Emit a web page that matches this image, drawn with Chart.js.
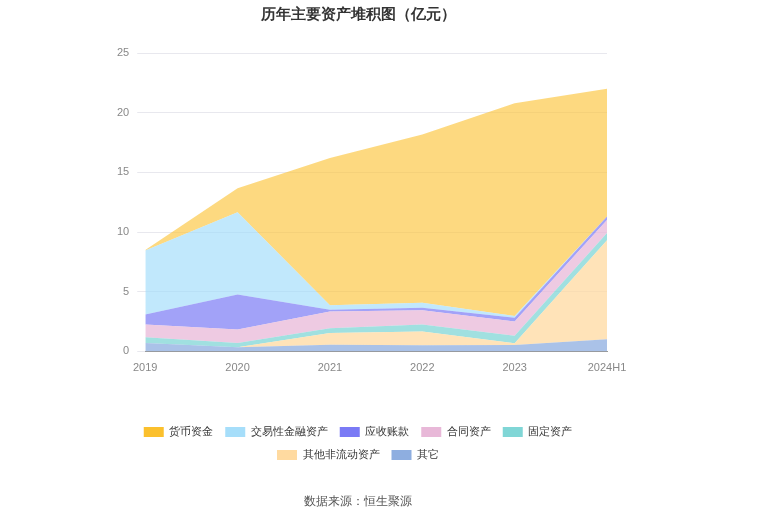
<!DOCTYPE html>
<html><head><meta charset="utf-8">
<script src="https://cdn.jsdelivr.net/npm/chart.js@4"></script>
<style>html,body{margin:0;padding:0;background:#fff}#w{width:765px;height:517px}</style>
</head><body><div id="w"><canvas id="c"></canvas></div>
<script>
const categories = ['2019','2020','2021','2022','2023','2024H1'];
const huobi   = [0.05, 2.0, 12.34, 14.1, 17.84, 10.7];
const jiaoyi  = [5.35, 6.9, 0.37, 0.42, 0.15, 0.0];
const yingshou= [0.85, 2.93, 0.14, 0.22, 0.31, 0.3];
const hetong  = [1.07, 1.13, 1.41, 1.19, 1.18, 1.1];
const guding  = [0.48, 0.36, 0.39, 0.59, 0.64, 0.6];
const feiliudong = [0.0, 0.0, 0.99, 1.15, 0.15, 8.3];
const qita    = [0.70, 0.34, 0.56, 0.51, 0.53, 1.01];
const yTicks = [0,5,10,15,20,25];

const series = [
  ['其它', qita, 'rgba(142,174,224,0.75)', '#8eaee0'],
  ['其他非流动资产', feiliudong, 'rgba(255,218,160,0.75)', '#ffdaa0'],
  ['固定资产', guding, 'rgba(128,214,214,0.75)', '#80d6d6'],
  ['合同资产', hetong, 'rgba(232,184,216,0.75)', '#e8b8d8'],
  ['应收账款', yingshou, 'rgba(122,122,245,0.7)', '#7a7af5'],
  ['交易性金融资产', jiaoyi, 'rgba(160,220,250,0.65)', '#a6defa'],
  ['货币资金', huobi, 'rgba(252,196,60,0.65)', '#fbc02d'],
];
new Chart(document.getElementById('c'), {
  type: 'line',
  data: {
    labels: categories,
    datasets: series.map((s,i)=>({
      label: s[0], data: s[1], backgroundColor: s[2], borderColor: s[2],
      borderWidth: 0, pointRadius: 0, tension: 0, fill: i===0?'origin':'-1'
    }))
  },
  options: {
    responsive: true, maintainAspectRatio: false, animation: false,
    layout: {padding: {left: 109, right: 158, top: 4, bottom: 4}},
    scales: {
      x: {offset:false, grid:{display:false}, border:{color:'#999'},
          afterFit: ax => { ax.height += 38; },
          ticks:{color:'#888', font:{size:11}, padding:2}},
      y: {stacked:true, min:0, max:25, grid:{color:'#e8e8ee'}, border:{display:false},
          afterBuildTicks: ax => { ax.ticks = yTicks.map(v=>({value:v})); },
          ticks:{color:'#888', font:{size:11}, padding:8}}
    },
    plugins: {
      title: {display:true, text:'历年主要资产堆积图（亿元）', color:'#333',
              font:{size:15, weight:'bold'}, padding:{top:2,bottom:29}},
      legend: {position:'bottom', reverse:true,
               labels:{boxWidth:20, boxHeight:10, color:'#333', font:{size:11}, padding:12,
                 generateLabels: ch => Chart.defaults.plugins.legend.labels.generateLabels(ch).map(l=>{l.fillStyle=series[l.datasetIndex][3]; l.strokeStyle=series[l.datasetIndex][3]; return l;})}},
      subtitle: {display:true, position:'bottom', text:'数据来源：恒生聚源', color:'#555',
                 font:{size:12}, padding:{top:24,bottom:4}},
      tooltip:{enabled:false}
    }
  }
});
</script></body></html>
